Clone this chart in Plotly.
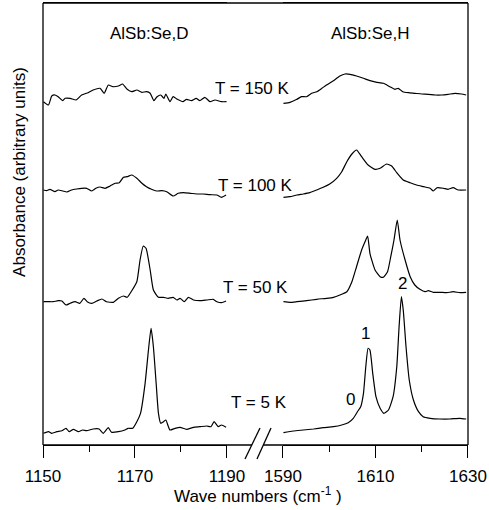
import plotly.graph_objects as go

# ---- data (wavenumber cm^-1, absorbance in arbitrary units incl. vertical offset) ----
d150_x = [1150.1, 1151.2, 1151.9, 1152.6, 1153.3, 1154.3, 1154.8, 1155.9, 1157.2, 1158.4, 1159.8, 1160.9,
          1162.4, 1163.3, 1164.2, 1165.2, 1166.4, 1167.3, 1168.3, 1169.3, 1170.4, 1171.5, 1172.5, 1173.3,
          1174.1, 1174.8, 1175.6, 1176.3, 1176.7, 1177.6, 1178.3, 1179.2, 1180.4, 1181.2, 1182.3, 1183.3,
          1184.1, 1185.2, 1186.3, 1187.4, 1188.8, 1189.9]
d150_y = [343.3, 340, 349, 350, 348.3, 344.3, 346.7, 346.7, 345, 350, 352.3, 355, 356.7, 351.7, 360, 358.3,
          359, 361, 355.7, 353.3, 355, 352.7, 353.3, 351.7, 344.3, 348.3, 350, 346.7, 351, 343.3, 348.3,
          345.7, 343.3, 345.7, 344.3, 346.7, 344.3, 347.7, 343.3, 345, 343.3, 343.3]

d100_x = [1150.1, 1150.8, 1151.5, 1152.6, 1153.3, 1154.3, 1155.2, 1156.2, 1157.3, 1158.4, 1159.5, 1160.6,
          1161.5, 1162.4, 1163.5, 1164.6, 1165.7, 1166.6, 1167.5, 1168.3, 1169.3, 1170.4, 1171.5, 1172.5,
          1173.6, 1174.7, 1175.8, 1176.9, 1178.3, 1179.4, 1180.5, 1182.0, 1183.4, 1184.8, 1186.3, 1187.8,
          1188.8, 1189.8]
d100_y = [255, 254.3, 255.7, 253.3, 255, 254, 253, 255, 256, 256.7, 256.7, 254, 256.7, 258, 256.7, 259,
          261.7, 262.3, 267.7, 268.3, 270, 266.7, 261.7, 258.3, 255.7, 254, 254.3, 253.3, 249, 251.7, 252.3,
          251.7, 251, 251, 250.3, 250, 247.7, 250]

d50_x = [1150.1, 1151.2, 1152.2, 1153.3, 1154.1, 1155.0, 1155.9, 1157.0, 1158.0, 1158.9, 1159.6, 1160.6,
         1161.7, 1162.8, 1163.8, 1165.3, 1166.4, 1167.5, 1168.3, 1169.3, 1170.4, 1171.1, 1171.8, 1172.4,
         1173.3, 1174.0, 1175.1, 1176.2, 1177.2, 1178.3, 1179.1, 1179.8, 1180.7, 1181.6, 1182.7, 1184.1,
         1185.6, 1187.0, 1187.8, 1188.8, 1189.8]
d50_y = [143.3, 143.3, 143.3, 144.3, 144, 140, 141.7, 143.3, 141.7, 146.7, 143.3, 141.7, 144, 146, 143.3,
         142.7, 146.7, 149, 147.7, 154.3, 163.3, 185, 199, 196.7, 175, 155, 147.7, 147.7, 146.7, 147.7, 145,
         146.7, 143.3, 147.7, 145, 144.3, 145, 145.7, 143.3, 142.3, 144]

d5_x = [1150.1, 1151.2, 1151.9, 1153.0, 1154.1, 1155.0, 1155.7, 1156.6, 1157.7, 1158.6, 1159.5, 1160.9,
        1162.2, 1163.1, 1164.2, 1164.9, 1166.4, 1167.8, 1168.5, 1169.5, 1170.4, 1171.2, 1172.2, 1173.0,
        1173.5, 1174.0, 1174.6, 1175.1, 1175.6, 1176.2, 1176.7, 1177.6, 1178.7, 1179.8, 1181.2, 1182.7,
        1184.1, 1185.6, 1186.5, 1187.2, 1188.1, 1188.8, 1189.8]
d5_y = [11.7, 13.3, 11.7, 13.3, 14.3, 16.7, 13.3, 15.7, 13.3, 15, 14.3, 16, 16, 11.7, 17.3, 12.7, 13.3, 15,
        16.7, 16.7, 23.3, 31.7, 61.7, 98.3, 116.7, 98.3, 61.7, 31.7, 21.7, 23.3, 25, 15, 16.7, 17.7, 15.7,
        17.7, 18.3, 19, 18.3, 23.3, 18.3, 20, 17.7]

h150_x = [1590.1, 1591.5, 1593.0, 1594.0, 1595.1, 1596.2, 1597.3, 1598.4, 1599.4, 1600.9, 1602.3, 1603.4,
          1604.5, 1605.9, 1607.4, 1608.8, 1610.3, 1611.7, 1613.1, 1614.2, 1614.9, 1615.9, 1617.1, 1618.5,
          1620.0, 1621.4, 1622.9, 1624.3, 1625.7, 1627.2, 1628.6, 1629.6]
h150_y = [341.7, 342.7, 345.7, 348.3, 348.3, 351.7, 353.3, 356.7, 360, 364.3, 369, 371, 370.7, 369, 366.7,
          364.3, 362.7, 361.7, 358.3, 355.7, 356.7, 353.3, 352.3, 351.7, 351, 350.7, 350, 350, 350.7, 351.7,
          351, 350]

h100_x = [1590.1, 1591.5, 1593.0, 1594.4, 1595.8, 1597.3, 1598.7, 1600.1, 1601.6, 1602.7, 1603.8, 1604.9,
          1605.9, 1607.0, 1608.4, 1609.9, 1611.0, 1612.4, 1613.5, 1614.6, 1616.0, 1617.5, 1618.9, 1620.4,
          1621.8, 1622.5, 1623.3, 1624.7, 1625.7, 1626.8, 1627.9, 1629.6]
h100_y = [247.7, 248.3, 250, 251, 252.3, 255, 257.7, 261, 266.7, 273.3, 283.3, 291, 295, 288.3, 280, 275.7,
          276.7, 281, 279, 272.3, 265, 262.3, 260, 258.3, 256.7, 254, 257.3, 256.7, 255.7, 257.3, 255, 255]

h50_x = [1590.1, 1591.5, 1593.0, 1595.1, 1597.3, 1599.4, 1600.9, 1602.3, 1603.8, 1604.9, 1605.9, 1607.0,
         1607.9, 1608.3, 1608.8, 1609.9, 1611.0, 1611.7, 1612.6, 1613.3, 1614.0, 1614.7, 1615.3, 1616.4,
         1617.5, 1618.5, 1619.6, 1620.7, 1621.4, 1622.5, 1623.9, 1625.4, 1626.8, 1628.3, 1629.6]
h50_y = [143.3, 142.7, 143.3, 144.3, 145.7, 146.7, 147.7, 150, 153.3, 163.3, 178.3, 195, 205, 209, 191.7,
         175, 168.3, 167.7, 173.3, 188.3, 205, 225, 205, 185, 168.3, 160, 155.7, 153.3, 154.3, 152.7, 152.7,
         152.3, 153.3, 152.3, 152.7]

h5_x = [1590.1, 1592.2, 1594.4, 1596.6, 1598.7, 1600.9, 1602.7, 1604.1, 1605.2, 1606.1, 1606.8, 1607.4,
        1607.9, 1608.4, 1608.8, 1609.4, 1610.1, 1611.0, 1611.8, 1612.8, 1613.8, 1614.6, 1615.1, 1615.6,
        1616.0, 1616.6, 1617.3, 1618.2, 1619.3, 1620.3, 1621.8, 1623.9, 1626.1, 1628.2, 1629.6]
h5_y = [12.3, 14, 15, 16, 17.3, 18.3, 20, 22.3, 26.7, 33.3, 38.3, 51.7, 78.3, 96.7, 95, 71.7, 48.3, 36.7,
        31.7, 35, 48.3, 78.3, 118.3, 148.3, 135, 98.3, 65, 45, 33.3, 28.3, 26.7, 26, 26, 26.7, 26]

temp_labels = ["T = 150 K", "T = 100 K", "T = 50 K", "T = 5 K"]
temp_label_y = [357, 260, 158, 43]
temp_label_xpaper = [0.494, 0.501, 0.501, 0.508]

left_ticks = [1150, 1170, 1190]
right_ticks = [1590, 1610, 1630]

FONT = "Liberation Sans, Arial, sans-serif"
FS = 17
LW = 1.2

fig = go.Figure()
for xs, ys in [(d150_x, d150_y), (d100_x, d100_y), (d50_x, d50_y), (d5_x, d5_y)]:
    fig.add_trace(go.Scatter(x=xs, y=ys, mode="lines",
                             line=dict(color="black", width=LW, shape="spline", smoothing=0.5),
                             xaxis="x", yaxis="y", showlegend=False, hoverinfo="skip"))
for xs, ys in [(h150_x, h150_y), (h100_x, h100_y), (h50_x, h50_y), (h5_x, h5_y)]:
    fig.add_trace(go.Scatter(x=xs, y=ys, mode="lines",
                             line=dict(color="black", width=LW, shape="spline", smoothing=0.5),
                             xaxis="x2", yaxis="y", showlegend=False, hoverinfo="skip"))

axis_common = dict(
    ticks="outside", ticklen=12, tickwidth=1.3, tickcolor="black",
    showgrid=False, zeroline=False, showline=True, linecolor="black", linewidth=1.3, mirror=True,
    ticklabelstandoff=3,
    tickfont=dict(family=FONT, size=FS, color="black"),
    minor=dict(dtick=10, ticks="outside", ticklen=6, tickwidth=1.3, tickcolor="black", showgrid=False),
)

fig.update_layout(
    width=489, height=510,
    margin=dict(l=43, r=21, t=3, b=65),
    paper_bgcolor="white", plot_bgcolor="white",
    xaxis=dict(domain=[0, 0.4329], range=[1150, 1190], tickvals=left_ticks, anchor="y",
               tick0=1150, **axis_common),
    xaxis2=dict(domain=[0.5647, 1], range=[1590, 1630], tickvals=right_ticks, anchor="y",
                tick0=1590, **axis_common),
    yaxis=dict(range=[0, 442], showticklabels=False, ticks="", showgrid=False, zeroline=False,
               showline=False),
)

# frame and broken axis (paper positions)
shape_line = dict(color="black", width=1.3)
frame = [
    (0, 0, 0, 1),
    (1, 0, 1, 1),
    (0, 0, 0.4918, 0),
    (0.5176, 0, 1, 0),
    (0.4753, -0.0317, 0.5106, 0.0385),
    (0.5035, -0.0317, 0.5365, 0.0385),
    (0, 1, 1, 1),
]
for x0, y0, x1, y1 in frame:
    fig.add_shape(type="line", xref="paper", yref="paper", x0=x0, y0=y0, x1=x1, y1=y1, line=shape_line,
                  layer="above")

font = dict(family=FONT, size=FS, color="black")
for txt, yv, xp in zip(temp_labels, temp_label_y, temp_label_xpaper):
    fig.add_annotation(text=txt, xref="paper", yref="y", x=xp, y=yv, showarrow=False, font=font)

fig.add_annotation(text="AlSb:Se,D", xref="x", yref="y", x=1173.0, y=412, showarrow=False, font=font)
fig.add_annotation(text="AlSb:Se,H", xref="x2", yref="y", x=1608.8, y=412, showarrow=False, font=font)
fig.add_annotation(text="1", xref="x2", yref="y", x=1607.9, y=112, showarrow=False, font=font)
fig.add_annotation(text="2", xref="x2", yref="y", x=1615.8, y=162, showarrow=False, font=font)
fig.add_annotation(text="0", xref="x2", yref="y", x=1604.7, y=46, showarrow=False, font=font)

fig.add_annotation(text="Wave numbers (cm<sup>-1</sup> )", xref="paper", yref="paper", x=0.505, y=-0.113,
                   xanchor="center", yanchor="middle", showarrow=False, font=font)
fig.add_annotation(text="Absorbance (arbitrary units)", xref="paper", yref="paper", x=-0.054, y=0.618,
                   xanchor="center", yanchor="middle", textangle=-90, showarrow=False, font=font)

fig.write_html("out.html", config={"displayModeBar": False},
               post_script="document.body.style.margin='0';")
